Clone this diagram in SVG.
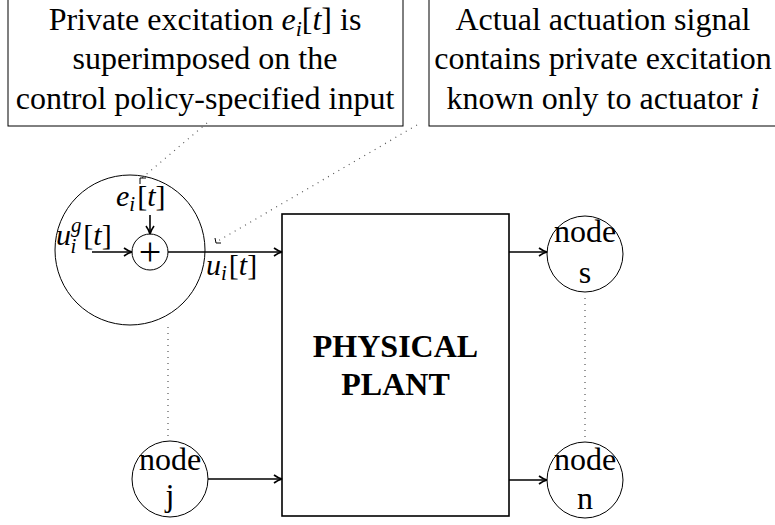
<svg xmlns="http://www.w3.org/2000/svg" width="775" height="525" viewBox="0 0 775 525" font-family="'Liberation Serif', 'Times New Roman', Times, serif">
<defs>
<style>
text{font-family:'Liberation Serif','Times New Roman',Times,serif;fill:#000}
.t32{font-size:32px}
.m{font-size:30px}
.it{font-style:italic}
.ln{stroke:#000;stroke-width:1.6;fill:none}
.thin{stroke:#000;stroke-width:1;fill:none}
.dot{stroke:#555;stroke-width:1.2;fill:none;stroke-dasharray:1 5}
</style>
<marker id="ah" viewBox="0 0 10 10" refX="9" refY="5" markerWidth="10" markerHeight="10" markerUnits="userSpaceOnUse" orient="auto">
<path d="M1 1 Q5 4 9 5 Q5 6 1 9" fill="none" stroke="#000" stroke-width="1.6"/>
</marker>
</defs>
<rect width="775" height="525" fill="#fff"/>

<g id="note1">
<rect x="8" y="-5" width="395" height="131" class="thin"/>
<text class="t32" x="205" y="30" text-anchor="middle">Private excitation <tspan class="it">e</tspan><tspan class="it" font-size="22" dy="6">i</tspan><tspan dy="-6">[</tspan><tspan class="it">t</tspan>] is</text>
<text class="t32" x="205" y="69" text-anchor="middle">superimposed on the</text>
<text class="t32" x="205" y="109" text-anchor="middle">control policy-specified input</text>
</g>

<g id="note2">
<rect x="429" y="-5" width="360" height="131" class="thin"/>
<text class="t32" x="603" y="30" text-anchor="middle">Actual actuation signal</text>
<text class="t32" x="603" y="69" text-anchor="middle">contains private excitation</text>
<text class="t32" x="603" y="109" text-anchor="middle">known only to actuator <tspan class="it">i</tspan></text>
</g>

<g id="actuator">
<circle cx="130" cy="250" r="75" class="thin"/>
</g>

<g id="sum">
<circle cx="150" cy="252" r="18" class="thin"/>
<text x="150" y="265" font-size="40" text-anchor="middle">+</text>
</g>

<g id="plant">
<rect x="282" y="214" width="227" height="302" class="ln"/>
<text class="t32" x="395.5" y="357" text-anchor="middle" font-weight="bold">PHYSICAL</text>
<text class="t32" x="395.5" y="395" text-anchor="middle" font-weight="bold">PLANT</text>
</g>

<g id="node-s">
<circle cx="585" cy="254" r="38" class="thin"/>
<text class="t32" x="585" y="242" text-anchor="middle">node</text>
<text class="t32" x="585" y="283" text-anchor="middle">s</text>
</g>

<g id="node-n">
<circle cx="585" cy="480" r="38" class="thin"/>
<text class="t32" x="585" y="470" text-anchor="middle">node</text>
<text class="t32" x="585" y="509" text-anchor="middle">n</text>
</g>

<g id="node-j">
<circle cx="170" cy="479" r="38" class="thin"/>
<text class="t32" x="170" y="470" text-anchor="middle">node</text>
<text class="t32" x="170" y="506" text-anchor="middle">j</text>
</g>

<g id="labels">
<text class="m" x="116" y="206"><tspan class="it">e</tspan><tspan class="it" font-size="21" dy="5">i</tspan><tspan dx="2" dy="-5">[</tspan><tspan class="it">t</tspan>]</text>
<text class="m" x="56" y="245"><tspan class="it">u</tspan><tspan class="it" font-size="21" dy="-13">g</tspan><tspan class="it" font-size="21" dx="-11" dy="21">i</tspan><tspan dx="7" dy="-8">[</tspan><tspan class="it">t</tspan>]</text>
<text class="m" x="206" y="275"><tspan class="it">u</tspan><tspan class="it" font-size="21" dy="5">i</tspan><tspan dx="2" dy="-5">[</tspan><tspan class="it">t</tspan>]</text>
</g>

<g id="connectors">
<line x1="92" y1="252" x2="132" y2="252" class="ln" marker-end="url(#ah)"/>
<line x1="150" y1="215" x2="150" y2="234" class="ln" marker-end="url(#ah)"/>
<line x1="168" y1="252" x2="282" y2="252" class="ln" marker-end="url(#ah)"/>
<line x1="509" y1="252" x2="547" y2="252" class="ln" marker-end="url(#ah)"/>
<line x1="509" y1="480" x2="547" y2="480" class="ln" marker-end="url(#ah)"/>
<line x1="208" y1="479" x2="282" y2="479" class="ln" marker-end="url(#ah)"/>
<line x1="207" y1="123" x2="142" y2="178" class="dot"/>
<path d="M140 184 L140 178 L146 178" class="thin"/>
<line x1="417" y1="125" x2="218" y2="241" class="dot"/>
<path d="M215 238 L216 243 L221 243" class="thin"/>
<line x1="168" y1="327" x2="168" y2="436" class="dot"/>
<line x1="585" y1="298" x2="585" y2="438" class="dot"/>
</g>
</svg>
